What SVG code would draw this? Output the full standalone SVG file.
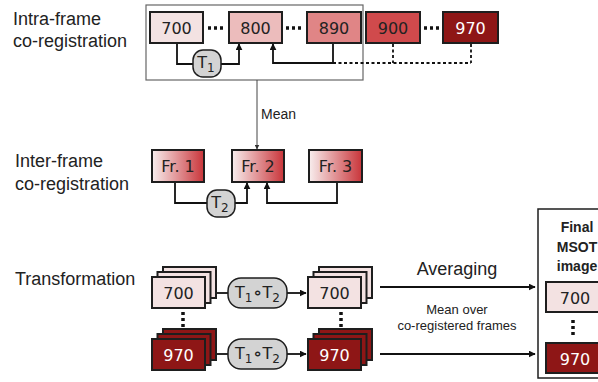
<svg xmlns="http://www.w3.org/2000/svg" width="598" height="382" viewBox="0 0 598 382">
  <defs>
    <marker id="arr" viewBox="0 0 10 10" refX="9" refY="5" markerWidth="7" markerHeight="7" markerUnits="userSpaceOnUse" orient="auto">
      <path d="M0,0 L10,5 L0,10 z" fill="#111"/>
    </marker>
    <marker id="arrSm" viewBox="0 0 10 10" refX="9" refY="5" markerWidth="5" markerHeight="5" markerUnits="userSpaceOnUse" orient="auto">
      <path d="M0,0 L10,5 L0,10 z" fill="#333"/>
    </marker>
    <linearGradient id="frGrad" x1="0" y1="0" x2="1" y2="0">
      <stop offset="0" stop-color="#f8eeee"/>
      <stop offset="1" stop-color="#c9353a"/>
    </linearGradient>
  </defs>
  <style>
    .lbl { font-family: "Liberation Sans", Arial, sans-serif; font-size: 18px; fill: #222; }
    .box { stroke: #1e1e1e; stroke-width: 2; }
    .num { font-family: "DejaVu Sans", Verdana, sans-serif; font-size: 16px; fill: #222; text-anchor: middle; }
    .numW { fill: #fff; }
    .pt { font-family: "DejaVu Sans", Verdana, sans-serif; font-size: 16px; fill: #222; text-anchor: middle; }
    .pill { fill: #d3d3d3; stroke: #1e1e1e; stroke-width: 1.5; }
    .conn { fill: none; stroke: #111; stroke-width: 1.8; }
    .dots { fill: none; stroke: #111; stroke-width: 3.5; stroke-dasharray: 3 3; }
    .dash { fill: none; stroke: #111; stroke-width: 1.8; stroke-dasharray: 3 2.5; }
    .c700 { fill: #f3e2e2; }
    .c800 { fill: #ecbcbc; }
    .c890 { fill: #e08586; }
    .c900 { fill: #d04a4c; }
    .c970 { fill: #8e1616; }
    .fr { fill: url(#frGrad); }
  </style>

  <!-- row labels -->
  <g id="labels">
    <text class="lbl" x="13" y="25">Intra-frame</text>
    <text class="lbl" x="13" y="47">co-registration</text>
    <text class="lbl" x="15" y="167">Inter-frame</text>
    <text class="lbl" x="15" y="190">co-registration</text>
    <text class="lbl" x="15" y="285">Transformation</text>
  </g>

  <!-- intra-frame group frame -->
  <g id="intra-frame-group">
    <rect x="146" y="5" width="217" height="75" fill="none" stroke="#666" stroke-width="1.2"/>
  </g>

  <!-- connectors -->
  <g id="connectors">
    <!-- intra-frame -->
    <line class="dots" x1="208" y1="28" x2="226" y2="28"/>
    <line class="dots" x1="286" y1="28" x2="304" y2="28"/>
    <line class="dots" x1="424" y1="28" x2="442" y2="28"/>
    <path class="conn" d="M177,44 V64 H193"/>
    <path class="conn" d="M221,64 H239 V44" marker-end="url(#arr)"/>
    <path class="conn" d="M333,44 V63 H273 V44" marker-end="url(#arr)"/>
    <path class="dash" d="M333,63 H471 M393,44 V63 M471,44 V63"/>
    <!-- mean -->
    <line x1="257" y1="80" x2="257" y2="149" stroke="#444" stroke-width="1" marker-end="url(#arrSm)"/>
    <text x="261" y="119" font-family="Liberation Sans, Arial, sans-serif" font-size="14" fill="#222">Mean</text>
    <!-- inter-frame -->
    <path class="conn" d="M175,183 V203 H207"/>
    <path class="conn" d="M235,203 H247 V183" marker-end="url(#arr)"/>
    <path class="conn" d="M337,183 V203 H267 V183" marker-end="url(#arr)"/>
    <!-- transformation -->
    <line class="conn" x1="217" y1="293" x2="228" y2="293"/>
    <line class="conn" x1="287" y1="293" x2="306" y2="293" marker-end="url(#arr)"/>
    <line class="conn" x1="217" y1="354" x2="228" y2="354"/>
    <line class="conn" x1="287" y1="354" x2="306" y2="354" marker-end="url(#arr)"/>
    <line class="dots" x1="183" y1="312" x2="183" y2="330"/>
    <line class="dots" x1="341" y1="312" x2="341" y2="330"/>
    <line class="conn" x1="380" y1="287" x2="535" y2="287" marker-end="url(#arr)"/>
    <line class="conn" x1="380" y1="354" x2="535" y2="354" marker-end="url(#arr)"/>
    <text x="457" y="275" text-anchor="middle" class="lbl">Averaging</text>
    <text x="457" y="314" text-anchor="middle" font-family="Liberation Sans, Arial, sans-serif" font-size="13" fill="#222">Mean over</text>
    <text x="457" y="330" text-anchor="middle" font-family="Liberation Sans, Arial, sans-serif" font-size="13" fill="#222">co-registered frames</text>
  </g>

  <!-- intra-frame wavelengths -->
  <g id="w700"><rect class="box c700" x="150" y="12" width="53" height="31"/><text class="num" x="176.5" y="33.5">700</text></g>
  <g id="w800"><rect class="box c800" x="229" y="12" width="53" height="31"/><text class="num" x="255.5" y="33.5">800</text></g>
  <g id="w890"><rect class="box c890" x="307" y="12" width="54" height="31"/><text class="num" x="334" y="33.5">890</text></g>
  <g id="w900"><rect class="box c900" x="366" y="12" width="54" height="31"/><text class="num" x="393" y="33.5">900</text></g>
  <g id="w970"><rect class="box c970" x="443" y="12" width="55" height="31"/><text class="num numW" x="470.5" y="33.5">970</text></g>
  <g id="t1"><rect class="pill" x="193" y="50" width="28" height="27" rx="10"/>
    <text class="pt" x="206" y="68">T<tspan font-size="12" dy="4">1</tspan></text></g>

  <!-- inter-frame -->
  <g id="fr1"><rect class="box fr" x="152" y="150" width="52" height="32"/><text class="num" x="178" y="171.5">Fr. 1</text></g>
  <g id="fr2"><rect class="box fr" x="232" y="150" width="52" height="32"/><text class="num" x="258" y="171.5">Fr. 2</text></g>
  <g id="fr3"><rect class="box fr" x="309" y="150" width="53" height="32"/><text class="num" x="335.5" y="171.5">Fr. 3</text></g>
  <g id="t2"><rect class="pill" x="207" y="190" width="28" height="27" rx="10"/>
    <text class="pt" x="220" y="208">T<tspan font-size="12" dy="4">2</tspan></text></g>

  <!-- transformation: input stacks -->
  <g id="in700">
    <rect class="box c700" x="163" y="267" width="53" height="31"/>
    <rect class="box c700" x="157.5" y="272" width="53" height="31"/>
    <rect class="box c700" x="152" y="277" width="53" height="31"/>
    <text class="num" x="178.5" y="298.5">700</text>
  </g>
  <g id="in970">
    <rect class="box c970" x="163" y="329" width="53" height="31"/>
    <rect class="box c970" x="157.5" y="334" width="53" height="31"/>
    <rect class="box c970" x="152" y="339" width="53" height="31"/>
    <text class="num numW" x="178.5" y="360.5">970</text>
  </g>
  <g id="tt1"><rect class="pill" x="228" y="278" width="59" height="30" rx="13"/>
    <text class="pt" x="257.5" y="297.5">T<tspan font-size="12" dy="4">1</tspan><tspan dy="-4" font-weight="bold">∘</tspan>T<tspan font-size="12" dy="4">2</tspan></text></g>
  <g id="tt2"><rect class="pill" x="228" y="339" width="59" height="30" rx="13"/>
    <text class="pt" x="257.5" y="358.5">T<tspan font-size="12" dy="4">1</tspan><tspan dy="-4" font-weight="bold">∘</tspan>T<tspan font-size="12" dy="4">2</tspan></text></g>

  <!-- transformation: output stacks -->
  <g id="out700">
    <rect class="box c700" x="319" y="267" width="53" height="31"/>
    <rect class="box c700" x="313.5" y="272" width="53" height="31"/>
    <rect class="box c700" x="308" y="277" width="53" height="31"/>
    <text class="num" x="334.5" y="298.5">700</text>
  </g>
  <g id="out970">
    <rect class="box c970" x="319" y="329" width="53" height="31"/>
    <rect class="box c970" x="313.5" y="334" width="53" height="31"/>
    <rect class="box c970" x="308" y="339" width="53" height="31"/>
    <text class="num numW" x="334.5" y="360.5">970</text>
  </g>

  <!-- final image -->
  <g id="final">
    <rect x="538" y="209" width="72" height="169" fill="#fff" stroke="#1e1e1e" stroke-width="1.5"/>
    <text x="577" y="232" text-anchor="middle" font-family="Liberation Sans, Arial, sans-serif" font-weight="bold" font-size="14" fill="#222">Final</text>
    <text x="577" y="252" text-anchor="middle" font-family="Liberation Sans, Arial, sans-serif" font-weight="bold" font-size="14" fill="#222">MSOT</text>
    <text x="577" y="271" text-anchor="middle" font-family="Liberation Sans, Arial, sans-serif" font-weight="bold" font-size="14" fill="#222">image</text>
    <rect class="box c700" x="546" y="282" width="60" height="30"/>
    <text class="num" x="575" y="303.5">700</text>
    <line class="dots" x1="573" y1="320" x2="573" y2="338"/>
    <rect class="box c970" x="546" y="343" width="60" height="30"/>
    <text class="num numW" x="575" y="364.5">970</text>
  </g>
</svg>
